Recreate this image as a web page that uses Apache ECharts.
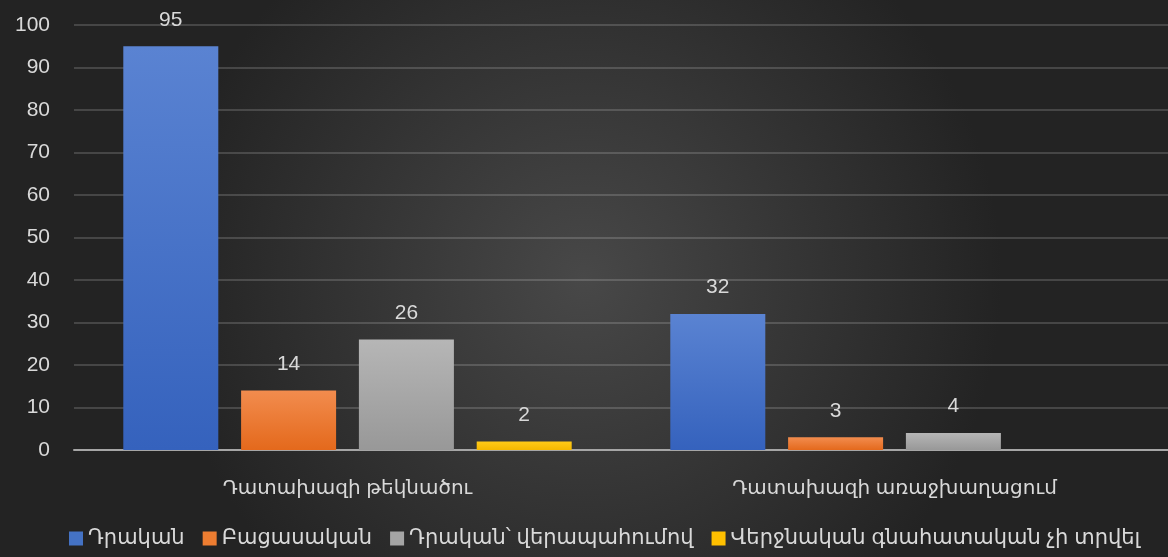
<!DOCTYPE html>
<html>
<head>
<meta charset="utf-8">
<script src="https://cdn.jsdelivr.net/npm/echarts@6/dist/echarts.min.js"></script>
<style>
  html, body { margin: 0; padding: 0; background: #2a2a2a; }
  #chart { width: 1168px; height: 557px; }
</style>
</head>
<body>
<div id="chart"></div>
<script>
// data
var categories = ['Դատախազի թեկնածու', 'Դատախազի առաջխաղացում']
var seriesNames = ['Դրական', 'Բացասական', 'Դրական՝ վերապահումով', 'Վերջնական գնահատական չի տրվել']
var positiveData = [95, 32]
var negativeData = [14, 3]
var reservedData = [26, 4]
var noRatingData = [2, null]

var fontFamily = 'Liberation Sans, DejaVu Sans, sans-serif'

function grad(top, bottom) {
  return new echarts.graphic.LinearGradient(0, 0, 0, 1, [
    { offset: 0, color: top },
    { offset: 1, color: bottom }
  ])
}

var colors = [
  grad('#5a83d2', '#3562bd'),
  grad('#f28c4e', '#e4691c'),
  grad('#b6b6b6', '#989898'),
  grad('#ffca18', '#f5b800')
]
var legendColors = ['#4472c4', '#ed7d31', '#a5a5a5', '#ffc000']

var chart = echarts.init(document.getElementById('chart'))

function makeSeries(name, data, idx) {
  return {
    name: name,
    type: 'bar',
    data: data,
    barWidth: 95,
    barGap: '24%',
    itemStyle: {
      color: colors[idx]
    },
    label: {
      show: true,
      position: 'top',
      distance: 16,
      color: '#d9d9d9',
      fontSize: 21,
      fontFamily: fontFamily
    }
  }
}

var option = {
  backgroundColor: {
    type: 'radial',
    x: 0.5,
    y: 0.5,
    r: 0.75,
    colorStops: [
      { offset: 0, color: '#484848' },
      { offset: 1, color: '#232323' }
    ]
  },
  color: legendColors,
  textStyle: { fontFamily: fontFamily },
  grid: {
    left: 74,
    right: 0,
    top: 25,
    bottom: 107
  },
  legend: {
    bottom: 3,
    left: 64,
    itemWidth: 14,
    itemHeight: 14,
    itemGap: 18,
    icon: 'rect',
    textStyle: {
      color: '#d9d9d9',
      fontSize: 21,
      fontFamily: fontFamily
    },
    data: seriesNames.map(function (n, i) {
      return { name: n, itemStyle: { color: legendColors[i] } }
    })
  },
  xAxis: {
    type: 'category',
    data: categories,
    axisTick: { show: false },
    axisLine: {
      lineStyle: { color: '#a6a6a6', width: 2 }
    },
    axisLabel: {
      margin: 28,
      color: '#d9d9d9',
      fontSize: 20,
      fontFamily: fontFamily
    }
  },
  yAxis: {
    type: 'value',
    min: 0,
    max: 100,
    interval: 10,
    axisLine: { show: false },
    axisTick: { show: false },
    axisLabel: {
      margin: 24,
      color: '#d9d9d9',
      fontSize: 21,
      fontFamily: fontFamily
    },
    splitLine: {
      lineStyle: { color: 'rgba(255,255,255,0.16)', width: 2 }
    }
  },
  series: [
    makeSeries(seriesNames[0], positiveData, 0),
    makeSeries(seriesNames[1], negativeData, 1),
    makeSeries(seriesNames[2], reservedData, 2),
    makeSeries(seriesNames[3], noRatingData, 3)
  ]
}

chart.setOption(option)
</script>
</body>
</html>
